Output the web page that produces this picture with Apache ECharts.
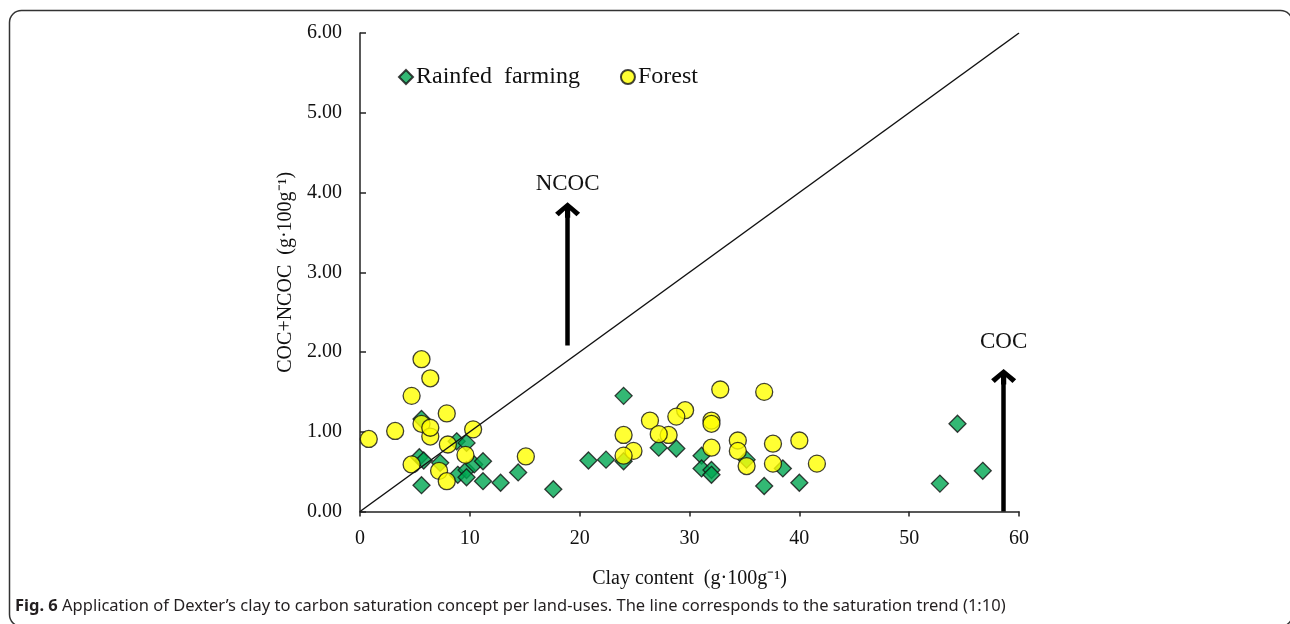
<!DOCTYPE html>
<html>
<head>
<meta charset="utf-8">
<script src="https://cdn.jsdelivr.net/npm/echarts@6/dist/echarts.min.js"></script>
<style>
html,body{margin:0;padding:0;background:#fff;}
#chart{width:1290px;height:624px;}
</style>
</head>
<body>
<div id="chart"></div>
<script>
// ---- data ----
const rainfedX = [5.6,5.4,5.8,5.6,7.3,8.8,9.7,8.9,9.7,9.7,10.4,11.2,11.2,12.8,14.4,17.6,20.8,22.4,24.0,24.0,27.2,28.8,31.1,31.1,32.0,32.0,35.2,38.5,36.8,40.0,52.8,54.4,56.7];
const rainfedY = [1.16,0.68,0.64,0.33,0.61,0.88,0.86,0.46,0.52,0.43,0.59,0.63,0.38,0.36,0.49,0.28,0.64,0.65,1.45,0.63,0.80,0.79,0.70,0.54,0.52,0.46,0.65,0.54,0.32,0.36,0.35,1.10,0.51];
const forestX = [0.8,3.2,4.7,5.6,6.4,5.6,6.4,6.4,7.9,8.0,4.7,7.2,7.9,9.6,10.3,15.1,32.8,36.8,29.6,28.8,26.4,32.0,32.0,24.0,28.1,27.2,24.9,24.0,32.0,34.4,34.4,35.2,37.6,37.6,40.0,41.6];
const forestY = [0.91,1.01,1.45,1.91,1.67,1.10,0.94,1.05,1.23,0.84,0.59,0.51,0.38,0.71,1.03,0.69,1.53,1.50,1.27,1.19,1.14,1.14,1.10,0.96,0.96,0.97,0.76,0.70,0.80,0.89,0.76,0.57,0.85,0.60,0.89,0.60];
const saturationX = [0, 60];
const saturationY = [0, 6];
const arrowNames = ['NCOC', 'COC'];
const arrowX = [18.9, 58.6];
const arrowFrom = [2.08, 0];
const arrowTo = [3.78, 1.69];
const seriesNames = ['Rainfed  farming', 'Forest'];
const xTicks = [0, 10, 20, 30, 40, 50, 60];
const yTicks = [0, 1, 2, 3, 4, 5, 6];
const xAxisTitle = 'Clay content  (g·100g\u207B\u00B9)';
const yAxisTitle = 'COC+NCOC  (g·100g\u207B\u00B9)';
const caption = 'Application of Dexter\u2019s clay to carbon saturation concept per land-uses. The line corresponds to the saturation trend (1:10)';

const serif = 'Liberation Serif';
const zip = (xs, ys) => xs.map((x, i) => [x, ys[i]]);
const chevron = 'path://M0,10 L12,0 L24,10 L20.5,13.5 L14.5,8 L14.5,15 L9.5,15 L9.5,8 L3.5,13.5 Z';

const chart = echarts.init(document.getElementById('chart'), null, {renderer: 'canvas'});
const option = {
  animation: false,
  backgroundColor: '#fff',
  title: {
    text: '{b|Fig. 6} ' + caption,
    left: 10, top: 593,
    textStyle: {
      fontFamily: 'Noto Sans', fontSize: 16.5, fontWeight: 'normal', color: '#231f20',
      rich: { b: { fontFamily: 'Noto Sans', fontSize: 16.5, fontWeight: 'bold', color: '#231f20' } }
    }
  },
  graphic: [{
    type: 'rect', left: 7, top: 8, silent: true,
    shape: { width: 1283, height: 616, r: 12 },
    style: { fill: 'none', stroke: '#333', lineWidth: 1.5 },
    z: -1
  }],
  legend: {
    left: 393, top: 60,
    itemWidth: 14, itemHeight: 14, itemGap: 40,
    textStyle: { fontFamily: serif, fontSize: 24, color: '#111', padding: [0, 0, 0, -2] },
    data: seriesNames
  },
  grid: { left: 360, right: 271, top: 33, bottom: 112.5, containLabel: false },
  xAxis: {
    type: 'value', min: xTicks[0], max: xTicks[xTicks.length - 1], interval: 10,
    name: xAxisTitle, nameLocation: 'middle', nameGap: 57,
    nameTextStyle: { fontFamily: serif, fontSize: 20, color: '#111' },
    axisLine: { show: true, lineStyle: { color: '#222', width: 1.5 } },
    axisTick: { show: true, inside: false, length: 5, lineStyle: { color: '#222', width: 1.5 } },
    axisLabel: { fontFamily: serif, fontSize: 20, color: '#111', margin: 17 },
    splitLine: { show: false }
  },
  yAxis: {
    type: 'value', min: yTicks[0], max: yTicks[yTicks.length - 1], interval: 1,
    name: yAxisTitle, nameLocation: 'middle', nameGap: 62,
    nameTextStyle: { fontFamily: serif, fontSize: 20, color: '#111' },
    axisLine: { show: true, lineStyle: { color: '#222', width: 1.5 } },
    axisTick: { show: true, inside: true, length: 6, lineStyle: { color: '#222', width: 1.5 } },
    axisLabel: { fontFamily: serif, fontSize: 20, color: '#111', margin: 18,
      formatter: v => v.toFixed(2) },
    splitLine: { show: false }
  },
  series: [
    {
      name: seriesNames[0], type: 'scatter', symbol: 'diamond', symbolSize: 17,
      itemStyle: { color: '#00a651', borderColor: '#111', borderWidth: 1.3 },
      data: zip(rainfedX, rainfedY), z: 3
    },
    {
      name: seriesNames[1], type: 'scatter', symbol: 'circle', symbolSize: 17,
      itemStyle: { color: '#ffff00', borderColor: '#111', borderWidth: 1.3 },
      data: zip(forestX, forestY), z: 4
    },
    {
      name: 'saturation', type: 'line', showSymbol: false, symbol: 'none',
      lineStyle: { color: '#111', width: 1.5 },
      data: zip(saturationX, saturationY), z: 5,
      silent: true,
      markLine: {
        silent: true, animation: false,
        symbol: ['none', chevron], symbolSize: 25, symbolKeepAspect: true,
        lineStyle: { color: '#000', width: 4.5, type: 'solid' },
        label: { show: true, position: 'end', fontFamily: serif, fontSize: 23, color: '#111',
          formatter: p => p.name },
        data: arrowNames.map((n, i) => [
          { name: n, coord: [arrowX[i], arrowFrom[i]],
            label: { distance: i === 0 ? 15 : 23 } },
          { coord: [arrowX[i], arrowTo[i]] }
        ])
      }
    }
  ]
};
chart.setOption(option);
</script>
</body>
</html>
